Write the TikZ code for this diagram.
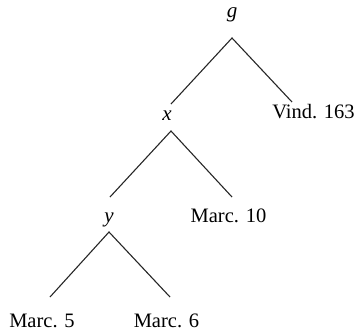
\documentclass[tikz,border=0pt]{standalone}
\usepackage{fontspec}
\setmainfont{Liberation Serif}
\begin{document}
\begin{tikzpicture}[x=1pt,y=-1pt,
  lbl/.style={inner sep=0pt,anchor=base,font=\fontsize{20.5}{24}\selectfont},
  var/.style={lbl,font=\fontsize{21}{24}\selectfont\itshape},
  edge/.style={draw=black!85,line width=1.1pt}]
\useasboundingbox (0,0) rectangle (357,333);
% labels
\node[var] (g) at (232,17) {g};
\node[var] (x) at (167,120) {x};
\node[var] (y) at (109,222) {y};
\node[lbl] (v163) at (313.5,118) {Vind. 163};
\node[lbl] (m10) at (228.5,222) {Marc. 10};
\node[lbl] (m5) at (42,327) {Marc. 5};
\node[lbl] (m6) at (166.5,327) {Marc. 6};
% connector ends
\coordinate (gb) at (232,38);
\coordinate (xt) at (171,104);
\coordinate (vt) at (292,102);
\coordinate (xb) at (171,131);
\coordinate (yt) at (110,197);
\coordinate (m10t) at (232,197);
\coordinate (yb) at (109,232);
\coordinate (m5t) at (50,297);
\coordinate (m6t) at (170,297);
% connectors
\draw[edge] (xt) -- (gb) -- (vt);
\draw[edge] (yt) -- (xb) -- (m10t);
\draw[edge] (m5t) -- (yb) -- (m6t);
\end{tikzpicture}
\end{document}
